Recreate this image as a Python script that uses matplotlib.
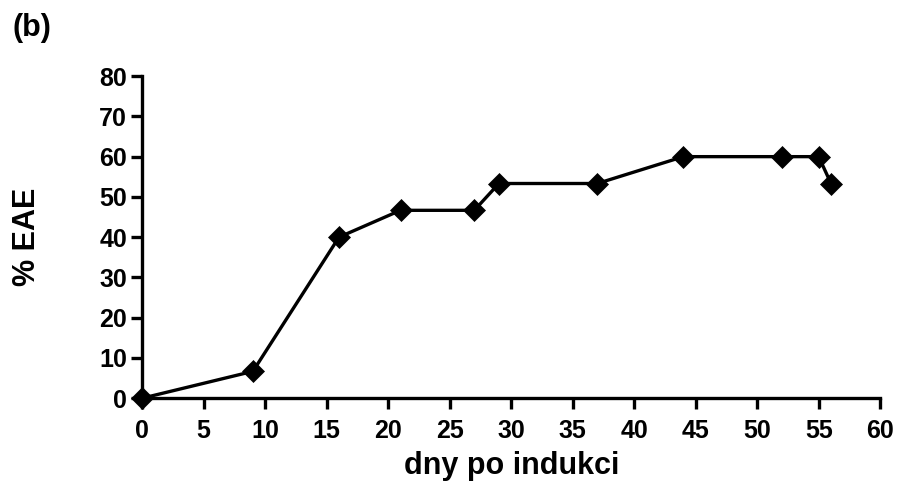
import matplotlib
matplotlib.use('Agg')
import matplotlib.pyplot as plt

plt.rcParams['font.family'] = ['Liberation Sans', 'DejaVu Sans']
plt.rcParams['font.weight'] = 'bold'

dny = [0, 9, 16, 21, 27, 29, 37, 44, 52, 55, 56]
eae = [0, 6.67, 40, 46.67, 46.67, 53.33, 53.33, 60, 60, 60, 53.33]

fig = plt.figure(figsize=(9, 4.88), dpi=100)
ax = fig.add_axes([0.158, 0.184, 0.82, 0.66])

ax.plot(dny, eae, color='black', linewidth=2.4, marker='D', markersize=11.5,
        markeredgewidth=0.5, clip_on=False, zorder=3)

ax.set_xlim(0, 60)
ax.set_ylim(0, 80)
ax.set_xticks(range(0, 61, 5))
ax.set_yticks(range(0, 81, 10))
ax.spines['top'].set_visible(False)
ax.spines['right'].set_visible(False)
for s in ['left', 'bottom']:
    ax.spines[s].set_linewidth(2.4)
ax.tick_params(width=2.4, length=8, labelsize=18, direction='out')
ax.tick_params(axis='x', pad=7)
ax.tick_params(axis='y', pad=3)
for lab in ax.get_xticklabels() + ax.get_yticklabels():
    lab.set_fontweight('bold')

ax.set_xlabel('dny po indukci', fontsize=22, fontweight='bold')
ax.set_ylabel('% EAE', fontsize=22, fontweight='bold')
ax.yaxis.set_label_coords(-0.136, 0.5)
ax.xaxis.set_label_coords(0.5, -0.165)
fig.text(13 / 900, 1 - 13 / 488, '(b)', fontsize=22, fontweight='bold', va='top', ha='left')

fig.savefig('out.png', dpi=100)
